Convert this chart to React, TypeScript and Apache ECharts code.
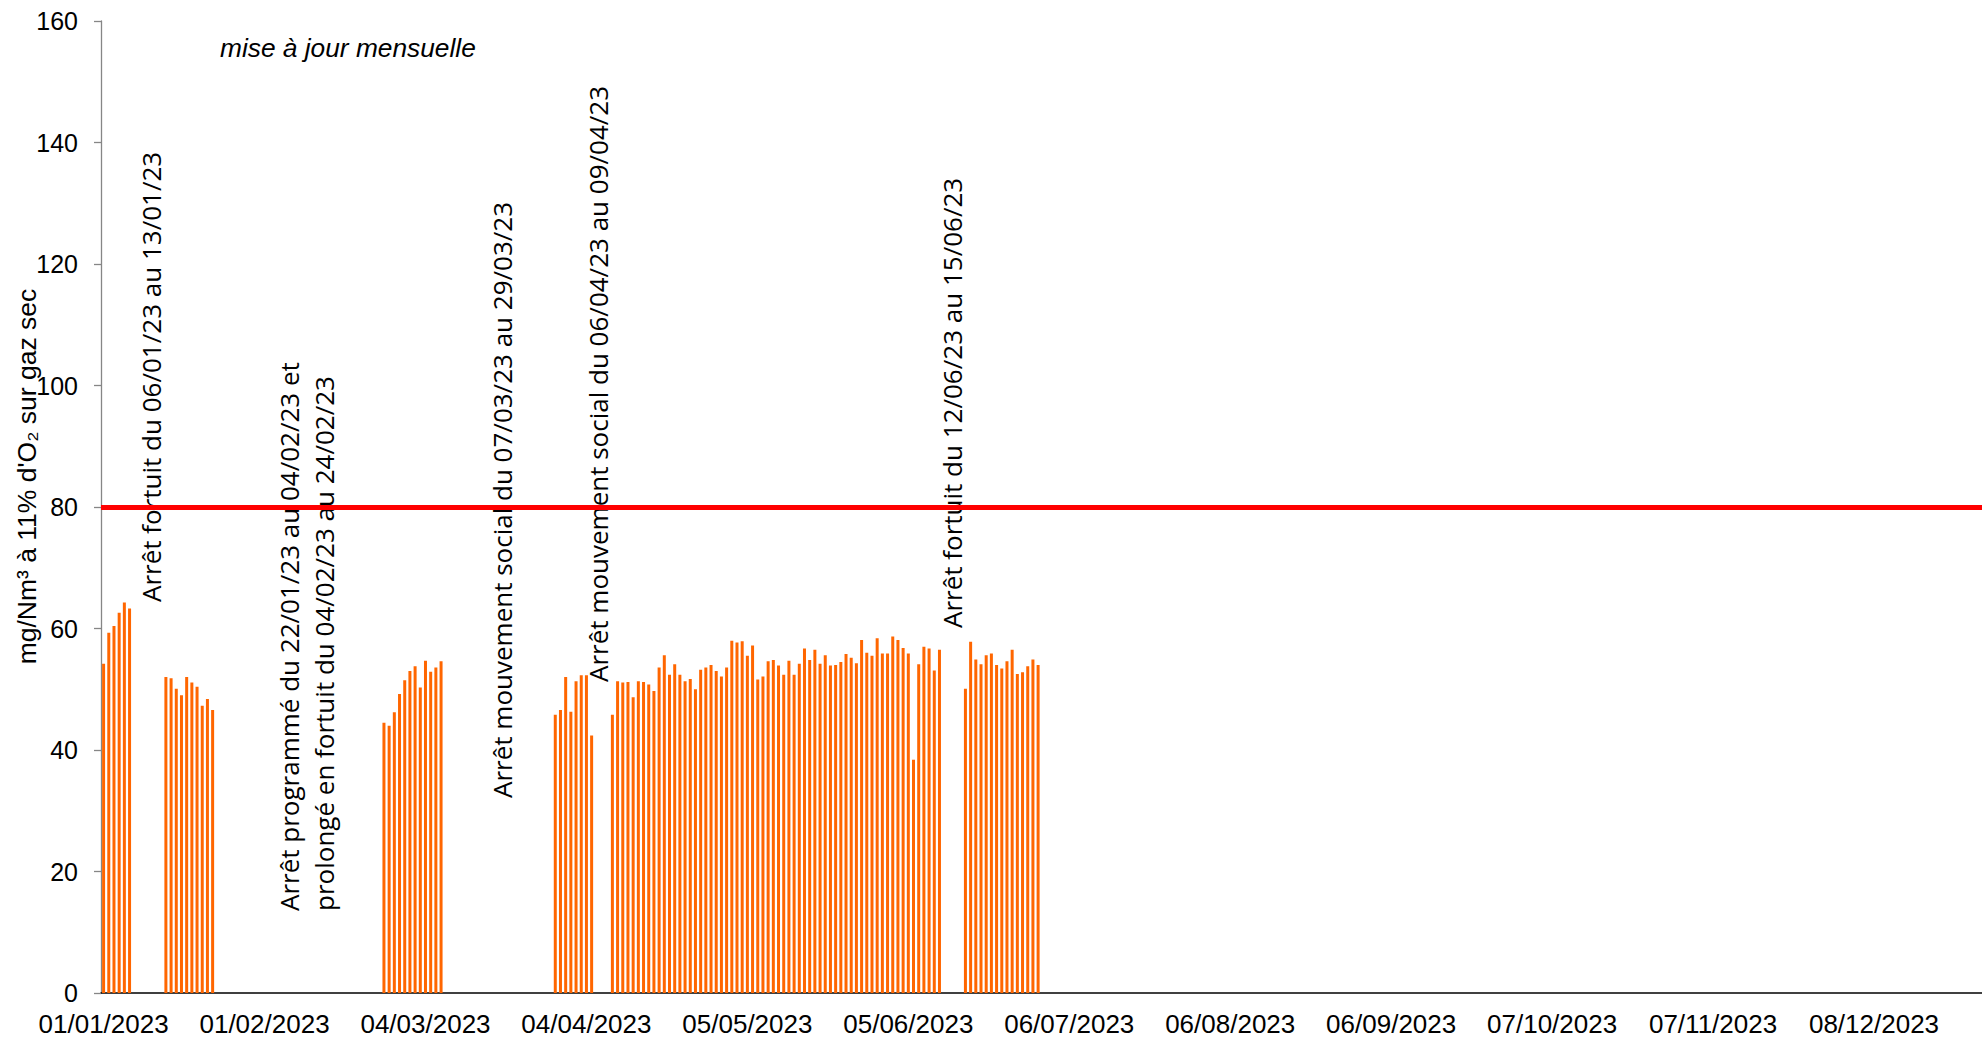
import React, { useEffect, useRef } from "react";
import * as echarts from "echarts";

// ---------- DATA ----------
const YEAR_START_UTC = Date.UTC(2023, 0, 1);
const DAYS_IN_AXIS = 365;
const pad = (n: number) => (n < 10 ? "0" + n : "" + n);
const fmtDate = (t: number) => {
  const d = new Date(t);
  return `${pad(d.getUTCDate())}/${pad(d.getUTCMonth() + 1)}/${d.getUTCFullYear()}`;
};
// daily categories of 2023
const categories: string[] = [];
for (let i = 0; i < DAYS_IN_AXIS; i++) categories.push(fmtDate(YEAR_START_UTC + i * 86400000));

// measured daily values (mg/Nm3 at 11% O2, dry gas), by operating run
const run1Start = "01/01/2023";
const run1Values = [54.2, 59.3, 60.4, 62.6, 64.3, 63.3];

const run2Start = "13/01/2023";
const run2Values = [52.0, 51.8, 50.1, 49.0, 52.0, 51.1, 50.4, 47.3, 48.4, 46.6];

const run3Start = "24/02/2023";
const run3Values = [44.5, 44.0, 46.2, 49.2, 51.5, 53.0, 53.8, 50.3, 54.7, 52.9, 53.6, 54.6];

const run4Start = "29/03/2023";
const run4Values = [45.8, 46.6, 52.0, 46.3, 51.3, 52.3, 52.3, 42.4];

const run5Start = "09/04/2023";
const run5Values = [
  45.8, 51.3, 51.1, 51.2, 48.7, 51.3, 51.2, 50.8, 49.7, 53.6,
  55.6, 52.4, 54.1, 52.4, 51.3, 51.7, 50.0, 53.2, 53.6, 54.0,
  53.0, 52.1, 53.6, 58.0, 57.7, 57.9, 55.5, 57.2, 51.6, 52.1,
  54.6, 54.8, 53.9, 52.4, 54.7, 52.4, 54.2, 56.7, 54.8, 56.5,
  54.2, 55.6, 53.9, 54.0, 54.5, 55.8, 55.2, 54.3, 58.1, 56.0,
  55.5, 58.4, 55.9, 55.9, 58.7, 58.1, 56.8, 55.9, 38.4, 54.1,
  57.0, 56.7, 53.1, 56.5,
];

const run6Start = "16/06/2023";
const run6Values = [50.1, 57.8, 54.9, 54.1, 55.6, 55.9, 54.0, 53.4, 54.6, 56.5, 52.5, 52.8, 53.8, 54.9, 54.0];

const limitValue = 80;
const yMin = 0;
const yMax = 160;
const yInterval = 20;

const yAxisTitle = "mg/Nm³ à 11% d'O₂ sur gaz sec";
const updateNote = "mise à jour mensuelle";
const stopNote1 = "Arrêt fortuit du 06/01/23 au 13/01/23";
const stopNote2 = "Arrêt programmé du 22/01/23 au 04/02/23 et\nprolongé en fortuit du 04/02/23 au 24/02/23";
const stopNote3 = "Arrêt mouvement social du 07/03/23 au 29/03/23";
const stopNote4 = "Arrêt mouvement social du 06/04/23 au 09/04/23";
const stopNote5 = "Arrêt fortuit du 12/06/23 au 15/06/23";

// ---------- BUILD ----------
const runs = [
  { start: run1Start, values: run1Values },
  { start: run2Start, values: run2Values },
  { start: run3Start, values: run3Values },
  { start: run4Start, values: run4Values },
  { start: run5Start, values: run5Values },
  { start: run6Start, values: run6Values },
];
const daily: (number | null)[] = categories.map(() => null);
runs.forEach((r) => {
  const i0 = categories.indexOf(r.start);
  r.values.forEach((v, k) => {
    daily[i0 + k] = v;
  });
});

const noteFont = { fontFamily: "'Open Sans'", fontSize: 26, fill: "#000" };
const vNote = (text: string, x: number, y: number, extra: any = {}) => ({
  type: "text",
  x,
  y,
  rotation: Math.PI / 2,
  z: 1,
  style: { text, ...noteFont, align: "left", verticalAlign: "middle", ...extra },
});

export default function App() {
  const ref = useRef<HTMLDivElement>(null);
  useEffect(() => {
    if (!ref.current) return;
    const chart = echarts.init(ref.current, undefined, { renderer: "svg" });
    chart.setOption({
      animation: false,
      backgroundColor: "#ffffff",
      grid: { left: 101, top: 21, bottom: 46, right: 0, containLabel: false },
      xAxis: {
        type: "category",
        data: categories,
        boundaryGap: true,
        axisLine: { show: true, lineStyle: { color: "#000000", width: 1.5 } },
        axisTick: { show: false },
        splitLine: { show: false },
        axisLabel: {
          interval: 30,
          hideOverlap: false,
          color: "#000",
          fontFamily: "'Liberation Sans'",
          fontSize: 26,
          margin: 18,
        },
      },
      yAxis: {
        type: "value",
        min: yMin,
        max: yMax,
        interval: yInterval,
        axisLine: { show: true, lineStyle: { color: "#868686", width: 1.3 } },
        axisTick: { show: true, length: 7, lineStyle: { color: "#868686", width: 1.3 } },
        splitLine: { show: false },
        axisLabel: { color: "#000", fontFamily: "'Liberation Sans'", fontSize: 25, margin: 23 },
      },
      series: [
        {
          type: "bar",
          data: daily,
          barWidth: 3,
          itemStyle: { color: "#FF6600" },
          markLine: {
            silent: true,
            symbol: ["none", "none"],
            label: { show: false },
            lineStyle: { color: "#FF0000", width: 5, type: "solid" },
            emphasis: { disabled: true },
            data: [{ yAxis: limitValue }],
            z: 10,
          },
        },
      ],
      graphic: [
        {
          type: "text",
          x: 220,
          y: 48,
          z: 1,
          style: {
            text: updateNote,
            fontFamily: "'Liberation Sans'",
            fontStyle: "italic",
            fontSize: 26.3,
            fill: "#000",
            align: "left",
            verticalAlign: "middle",
          },
        },
        {
          type: "text",
          x: 27,
          y: 476.5,
          rotation: Math.PI / 2,
          z: 1,
          style: {
            text: yAxisTitle,
            fontFamily: "'Liberation Sans'",
            fontSize: 26.5,
            fill: "#000",
            align: "center",
            verticalAlign: "middle",
          },
        },
        vNote(stopNote1, 150.5, 602),
        vNote(stopNote2, 306.5, 911, { lineHeight: 35 }),
        vNote(stopNote3, 502, 798),
        vNote(stopNote4, 598, 682),
        vNote(stopNote5, 951.5, 628),
      ],
    });
    return () => chart.dispose();
  }, []);
  return (
    <div
      style={{
        position: "fixed",
        left: 0,
        top: 0,
        width: 1982,
        height: 1039,
        overflow: "hidden",
        background: "#fff",
      }}
    >
      <div ref={ref} style={{ width: 1996, height: 1039 }} />
    </div>
  );
}
